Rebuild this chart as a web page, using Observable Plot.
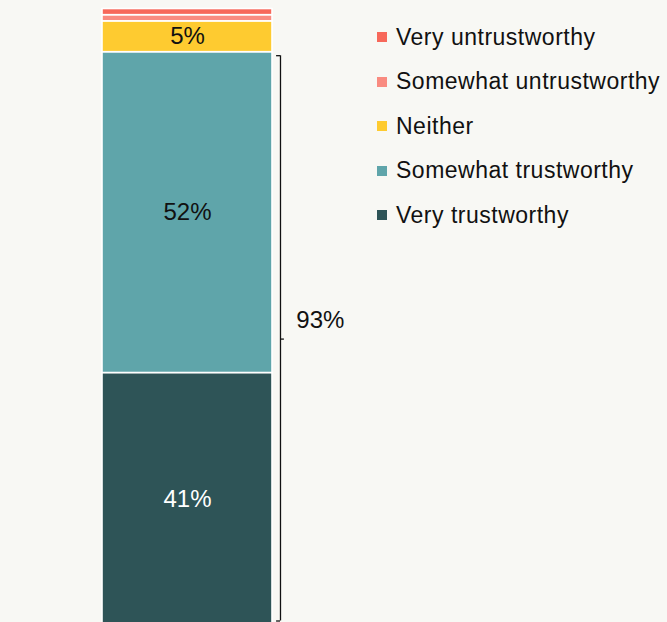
<!DOCTYPE html>
<html>
<head>
<meta charset="utf-8">
<script src="https://cdn.jsdelivr.net/npm/d3@7"></script>
<script src="https://cdn.jsdelivr.net/npm/@observablehq/plot@0.6"></script>
<style>
  html, body { margin: 0; padding: 0; background: #f8f8f4; overflow: hidden; }
  #wrap { position: relative; width: 667px; height: 622px; }
  #legend { position: absolute; left: 377px; top: 15px; font-family: "Liberation Sans", Arial, sans-serif; font-size: 23px; letter-spacing: 0.5px; color: #111; }
  .row { display: flex; align-items: center; height: 44.5px; white-space: nowrap; }
  .sw { width: 10px; height: 10px; margin-right: 9px; box-sizing: border-box; }
</style>
</head>
<body>
<div id="wrap"><div id="chart"></div><div id="legend"></div></div>
<script>
// Data (bottom to top of the stack)
const categories = ["Very trustworthy", "Somewhat trustworthy", "Neither", "Somewhat untrustworthy", "Very untrustworthy"];
const values = [41, 52, 5, 1, 1];
const colors = ["#2e5457", "#5fa5aa", "#fecb30", "#f98b80", "#f7685a"];
const labelColors = ["white", "#111", "#111", null, null];
const legendOrder = ["Very untrustworthy", "Somewhat untrustworthy", "Neither", "Somewhat trustworthy", "Very trustworthy"];
const bracketLabel = "93%";
const bracketValue = 93;

let acc = 0;
const rows = categories.map((c, i) => {
  const r = {category: c, value: values[i], y1: acc, y2: acc + values[i], color: colors[i], lc: labelColors[i]};
  acc += values[i];
  return r;
});

const plot = Plot.plot({
  width: 667,
  height: 622,
  style: {background: "transparent", fontFamily: "Liberation Sans, Arial, sans-serif", overflow: "hidden"},
  x: {domain: [0, 1], range: [102, 272], axis: null},
  y: {domain: [0, 100], range: [625.5, 8.5], axis: null},
  marks: [
    Plot.rectY(rows, {x1: 0, x2: 1, y1: "y1", y2: "y2", fill: "color", stroke: "white", strokeWidth: 1.6}),
    Plot.text(rows.filter(d => d.lc), {x: 0.5, y: d => (d.y1 + d.y2) / 2, text: d => d.value + "%", fill: "lc", fontSize: 24}),
    // bracket
    Plot.ruleX([1.047], {y1: bracketValue, y2: 0, stroke: "#111", strokeWidth: 1.3, insetTop: 3.5, insetBottom: 5}),
    Plot.ruleY([bracketValue], {x1: 1.024, x2: 1.047, stroke: "#111", strokeWidth: 1.3, dy: 3.5}),
    Plot.ruleY([0], {x1: 1.024, x2: 1.047, stroke: "#111", strokeWidth: 1.3, dy: -5}),
    Plot.ruleY([bracketValue / 2], {x1: 1.047, x2: 1.07, stroke: "#111", strokeWidth: 1.3}),
    Plot.text([bracketLabel], {x: 1.14, y: bracketValue / 2, text: d => d, textAnchor: "start", fontSize: 24, fill: "#111", dy: -19})
  ]
});
document.getElementById("chart").appendChild(plot);

const leg = document.getElementById("legend");
legendOrder.forEach(name => {
  const i = categories.indexOf(name);
  const row = document.createElement("div");
  row.className = "row";
  row.innerHTML = `<div class="sw" style="background:${colors[i]}"></div><span>${name}</span>`;
  leg.appendChild(row);
});
</script>
</body>
</html>
